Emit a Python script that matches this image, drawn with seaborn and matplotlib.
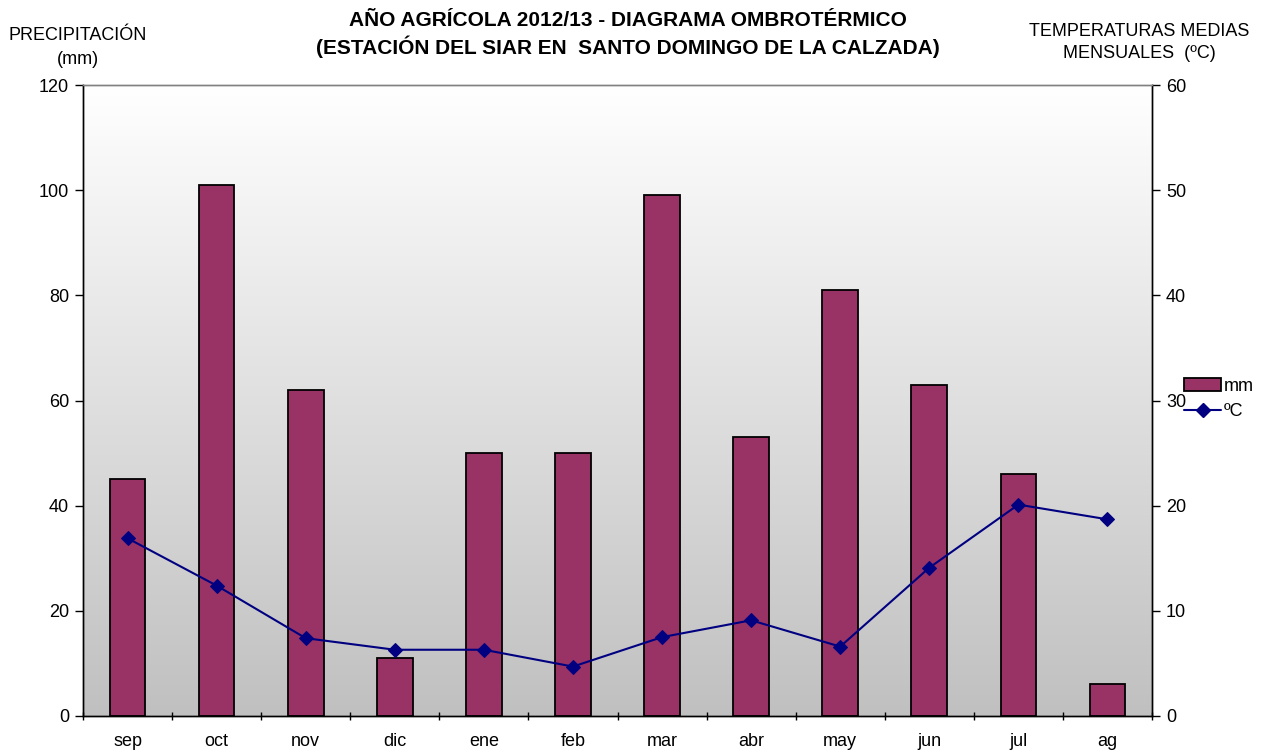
import numpy as np
import pandas as pd
import matplotlib
matplotlib.use("Agg")
import matplotlib.pyplot as plt
import seaborn as sns
from matplotlib.patches import Patch
from matplotlib.lines import Line2D
from matplotlib.ticker import MultipleLocator, FixedLocator

months = ["sep", "oct", "nov", "dic", "ene", "feb", "mar", "abr", "may", "jun", "jul", "ag"]
precip_mm = [45, 101, 62, 11, 50, 50, 99, 53, 81, 63, 46, 6]
temp_c = [16.9, 12.4, 7.4, 6.3, 6.3, 4.7, 7.5, 9.1, 6.6, 14.1, 20.1, 18.7]

sns.set_theme(style="white")
plt.rcParams["font.family"] = ["Liberation Sans", "DejaVu Sans"]
plt.rcParams["text.color"] = "black"
plt.rcParams["xtick.color"] = "black"
plt.rcParams["ytick.color"] = "black"
plt.rcParams["axes.labelcolor"] = "black"

df = pd.DataFrame({"mes": months, "mm": precip_mm, "temp": temp_c})

fig = plt.figure(figsize=(12.66, 7.54), dpi=100)
ax = fig.add_axes([83/1266, 1-716/754, (1152-83)/1266, (716-85)/754])

# gradient background
grad = np.linspace(1, 0, 256).reshape(-1, 1)
ax.imshow(grad, extent=[0, 1, 0, 1], transform=ax.transAxes, aspect="auto",
          cmap=matplotlib.colors.LinearSegmentedColormap.from_list("g", ["#c0c0c0", "#ffffff"]),
          vmin=0, vmax=1, zorder=0)

sns.barplot(data=df, x="mes", y="mm", ax=ax, color="#993366", width=0.4,
            edgecolor="black", linewidth=1.3, saturation=1, zorder=2)
ax.set_xlim(-0.5, 11.5)
ax.set_ylim(0, 120)
ax.set_xlabel("")
ax.set_ylabel("")
ax.yaxis.set_major_locator(MultipleLocator(20))
ax.tick_params(axis="y", which="major", left=True, length=6, width=1, color="black",
               labelsize=13, pad=4, direction="out", labelcolor="black")
ax.tick_params(axis="x", which="major", length=0, labelsize=13, pad=12, labelcolor="black")
ax.xaxis.set_minor_locator(FixedLocator(np.arange(-0.5, 12, 1.0)))
ax.tick_params(axis="x", which="minor", bottom=True, length=6, width=1, color="black", direction="inout")

ax2 = ax.twinx()
sns.lineplot(data=df, x="mes", y="temp", ax=ax2, color="#000080", marker="D",
             markersize=7, markeredgecolor="#000080", linewidth=1.5, zorder=3)
ax2.set_ylim(0, 60)
ax2.set_xlim(-0.5, 11.5)
ax2.set_ylabel("")
ax2.set_xlabel("")
ax2.yaxis.set_major_locator(MultipleLocator(10))
ax2.tick_params(axis="y", which="major", right=True, length=6, width=1, color="black",
                labelsize=13, pad=4, direction="out", labelcolor="black")

for a in (ax, ax2):
    for s in ("left", "right", "bottom"):
        a.spines[s].set_color("black")
        a.spines[s].set_linewidth(1)
    a.spines["top"].set_color("#808080")
    a.spines["top"].set_linewidth(1)

fig.text(628/1266, 1-20/754, "AÑO AGRÍCOLA 2012/13 - DIAGRAMA OMBROTÉRMICO",
         ha="center", va="center", fontsize=15, fontweight="bold")
fig.text(628/1266, 1-47/754, "(ESTACIÓN DEL SIAR EN  SANTO DOMINGO DE LA CALZADA)",
         ha="center", va="center", fontsize=15, fontweight="bold")
fig.text(78/1266, 1-36/754, "PRECIPITACIÓN", ha="center", va="center", fontsize=13)
fig.text(78/1266, 1-59/754, "(mm)", ha="center", va="center", fontsize=13)
fig.text(1139/1266, 1-32/754, "TEMPERATURAS MEDIAS", ha="center", va="center", fontsize=13)
fig.text(1139/1266, 1-53/754, "MENSUALES  (ºC)", ha="center", va="center", fontsize=13)

handles = [Patch(facecolor="#993366", edgecolor="black", linewidth=1.3),
           Line2D([0], [0], color="#000080", marker="D", markersize=7, linewidth=1.5)]
fig.legend(handles, ["mm", "ºC"], loc="center left", bbox_to_anchor=(1184/1266, 1-399/754),
           frameon=False, fontsize=13, handlelength=2.05, handletextpad=0.15,
           labelspacing=0.45, borderpad=0, borderaxespad=0)

fig.savefig("out.png", dpi=100)
